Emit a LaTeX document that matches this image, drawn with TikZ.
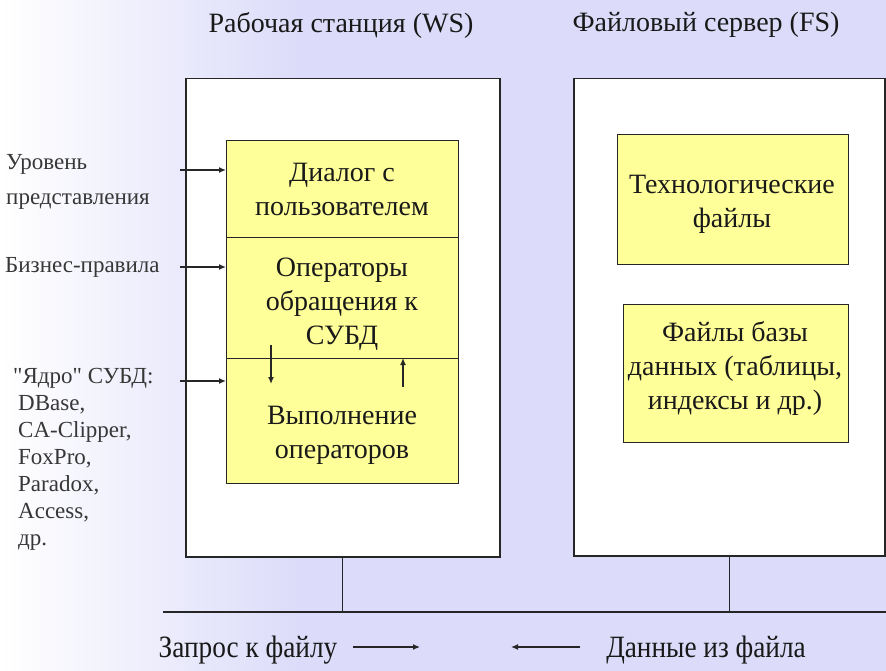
\documentclass[tikz,border=0pt]{standalone}
\usepackage{fontspec}
\usepackage{graphicx}
\setmainfont{Liberation Serif}[Ligatures=TeXOff]
\usetikzlibrary{arrows.meta}
\definecolor{lav}{RGB}{220,220,250}
\definecolor{yel}{RGB}{255,255,153}
\definecolor{txt}{RGB}{25,25,25}
\definecolor{lbl}{RGB}{55,55,55}
\pgfdeclarehorizontalshading{bgsh}{100bp}{color(0bp)=(white); color(25bp)=(white); color(42bp)=(lav); color(75bp)=(lav); color(100bp)=(lav)}
\begin{document}
\begin{tikzpicture}[x=1pt,y=-1pt,
  frame/.style={draw=black!85, line width=1.5pt, fill=white, anchor=north west, inner sep=0pt},
  ybox/.style={draw=black!85, line width=1.2pt, fill=yel, anchor=north west, inner sep=0pt},
  btxt/.style={font=\fontsize{28}{34}\selectfont, text=txt, align=center, inner sep=0pt},
  ttxt/.style={font=\fontsize{28}{34}\selectfont, text=txt, inner sep=0pt},
  ltxt/.style={font=\fontsize{23}{27}\selectfont, text=lbl, align=left, inner sep=0pt},
  conn/.style={draw=black!85, line width=1.3pt},
  arr/.style={draw=black!85, line width=1.3pt, -{Latex[length=7pt,width=6pt]}}
]
\shade[shading=bgsh] (0,0) rectangle (886,671);
\useasboundingbox (0,0) rectangle (886,671);

% titles
\node[ttxt] (tws) at (341,25) {Рабочая станция (WS)};
\node[ttxt] (tfs) at (706,25) {Файловый сервер (FS)};

% frames
\node[frame, minimum width=314pt, minimum height=478pt] (ws) at (185,78) {};
\node[frame, minimum width=311pt, minimum height=477pt] (fs) at (573,78) {};

% WS yellow stack
\node[ybox, minimum width=232pt, minimum height=97pt] (y1) at (226,140) {};
\node[ybox, minimum width=232pt, minimum height=121pt] (y2) at (226,237) {};
\node[ybox, minimum width=232pt, minimum height=125pt] (y3) at (226,358) {};
\node[btxt] (t1) at (342,189) {Диалог с\\пользователем};
\node[btxt] (t2) at (342,304) {Операторы\\обращения к\\СУБД};
\node[btxt] (t3) at (342,435) {Выполнение\\операторов};

% FS yellow boxes
\node[ybox, minimum width=231pt, minimum height=130pt] (f1) at (617,134) {};
\node[ybox, minimum width=225pt, minimum height=138pt] (f2) at (623,304) {};
\node[btxt] (tf1) at (732,204) {Технологические\\файлы};
\node[btxt] (tf2) at (735,368) {Файлы базы\\данных (таблицы,\\индексы и др.)};

% inner arrows
\coordinate (d1) at (271,345);
\coordinate (d2) at (271,384);
\coordinate (u1) at (403,387);
\draw[arr] (d1) -- (d2);
\draw[arr] (u1) -- (u1 |- y3.north);

% left labels
\node[ltxt, anchor=west] (l1) at (6,182) {Уровень\\[8pt]представления};
\node[ltxt, anchor=west] (l2) at (5,267) {Бизнес-правила};
\node[ltxt, anchor=north west] (l3) at (13,368) {"Ядро" СУБД:\\\hspace*{5pt}DBase,\\\hspace*{5pt}CA-Clipper,\\\hspace*{5pt}FoxPro,\\\hspace*{5pt}Paradox,\\\hspace*{5pt}Access,\\\hspace*{5pt}др.};
\coordinate (a1) at (180,170);
\coordinate (a2) at (180,267);
\coordinate (a3) at (180,381);
\draw[arr] (a1) -- (a1 -| y1.west);
\draw[arr] (a2) -- (a2 -| y2.west);
\draw[arr] (a3) -- (a3 -| y3.west);

% bus
\coordinate (busL) at (163,612);
\coordinate (busR) at (886,612);
\draw[conn, line width=1.6pt] (busL) -- (busR);
\draw[conn] (ws.south) -- (ws.south |- busL);
\draw[conn] (fs.south) -- (fs.south |- busL);

% bottom
\node[ttxt] (q) at (248,650) {\scalebox{0.88}[1]{\fontsize{31}{34}\selectfont Запрос к файлу}};
\node[ttxt] (r) at (706,650) {\scalebox{0.88}[1]{\fontsize{31}{34}\selectfont Данные из файла}};
\coordinate (qa) at (353,647);
\coordinate (qb) at (420,647);
\coordinate (ra) at (580,647);
\coordinate (rb) at (511,647);
\draw[arr] (qa) -- (qb);
\draw[arr] (ra) -- (rb);
\end{tikzpicture}
\end{document}
